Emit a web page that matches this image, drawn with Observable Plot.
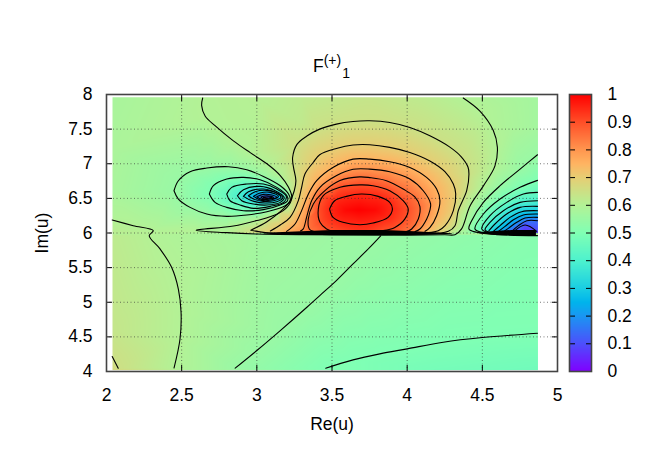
<!DOCTYPE html>
<html><head><meta charset="utf-8">
<script src="https://cdn.jsdelivr.net/npm/d3@7"></script>
<script src="https://cdn.jsdelivr.net/npm/@observablehq/plot@0.6"></script>
<style>
html,body{margin:0;padding:0;background:#fff}
#wrap{position:relative;width:664px;height:465px;font-family:"Liberation Sans",sans-serif}
#wrap svg{position:absolute;left:0;top:0}
#title{position:absolute;left:313px;top:56px;font-size:17.5px;line-height:20px;white-space:nowrap;color:#000}
#title sup,#title sub{font-size:14px;line-height:0;position:relative;vertical-align:baseline}
#title sup{top:-7px}#title sub{top:6px;left:1px}
</style></head><body>
<div id="wrap"><div id="title">F<sup>(+)</sup><sub>1</sub></div></div>
<script>
const xTicks=[2,2.5,3,3.5,4,4.5,5];
const yTicks=[4,4.5,5,5.5,6,6.5,7,7.5,8];
const barTicks=[0,0.1,0.2,0.3,0.4,0.5,0.6,0.7,0.8,0.9,1];
const paletteValues=[0,0.1,0.2,0.25,0.3,0.4,0.5,0.6,0.7,0.75,0.8,0.9,1];
const paletteColors=["#8000ff","#4d4ffc","#1a96f2","#00b4ec","#1acee3","#4df2ce","#80ffb4","#b3f296","#e6ce74","#ffb462","#ff964f","#ff4f28","#ff0000"];

// contours: [Re(u), Im(u)]
const c60main=[[2.64,7.95],[2.633,7.84],[2.656,7.69],[2.722,7.55],[2.844,7.33],[2.956,7.16],[3.067,7],[3.156,6.83],[3.211,6.66],[3.233,6.51],[3.2,6.37],[3.133,6.27],[3,6.18],[2.844,6.1],[2.596,6.04],[2.8,6.005],[3,5.985],[3.3,5.975],[4,5.97],[4.25,5.975],[4.318,5.976],[4.362,6.06],[4.418,6.39],[4.507,6.68],[4.584,6.97],[4.6,7.24],[4.573,7.48],[4.484,7.76],[4.373,7.95]];
const c65=[[2.96,6.04],[3.067,6.163],[3.156,6.308],[3.222,6.466],[3.249,6.61],[3.26,6.755],[3.244,6.947],[3.238,7.09],[3.267,7.28],[3.333,7.4],[3.418,7.5],[3.529,7.572],[3.64,7.61],[3.751,7.62],[3.884,7.596],[4.018,7.524],[4.151,7.404],[4.284,7.24],[4.36,7.1],[4.405,6.95],[4.411,6.853],[4.396,6.612],[4.34,6.323],[4.318,6.106],[4.274,6.024],[4.207,5.995],[3.6,5.98],[3.1,5.995],[2.96,6.04]];
const c70=[[3.09,6.03],[3.158,6.12],[3.221,6.227],[3.276,6.468],[3.298,6.66],[3.32,6.853],[3.376,7.022],[3.418,7.13],[3.529,7.22],[3.64,7.27],[3.751,7.274],[3.884,7.236],[4.018,7.163],[4.151,7.04],[4.251,6.885],[4.307,6.707],[4.323,6.564],[4.307,6.323],[4.252,6.106],[4.207,6.034],[4.14,6.005]];
const c75=[[3.198,6.024],[3.254,6.13],[3.298,6.323],[3.343,6.564],[3.398,6.757],[3.509,6.95],[3.64,7.067],[3.751,7.067],[3.884,7.03],[4.018,6.947],[4.129,6.803],[4.196,6.635],[4.218,6.466],[4.196,6.25],[4.152,6.082],[4.119,6.024]];
const c80=[[3.29,6.03],[3.309,6.06],[3.331,6.227],[3.365,6.468],[3.42,6.66],[3.531,6.829],[3.64,6.92],[3.751,6.923],[3.884,6.885],[4.018,6.78],[4.107,6.61],[4.156,6.42],[4.15,6.32],[4.13,6.203],[4.085,6.058],[4.052,6.02]];
const c85=[[3.376,6.024],[3.349,6.058],[3.342,6.2],[3.376,6.42],[3.453,6.612],[3.553,6.757],[3.684,6.81],[3.751,6.8],[3.862,6.755],[3.973,6.635],[4.051,6.52],[4.085,6.38],[4.074,6.203],[4.03,6.058],[3.997,6.02]];
const c90=[[3.509,6.024],[3.464,6.058],[3.42,6.154],[3.409,6.347],[3.442,6.54],[3.553,6.66],[3.686,6.695],[3.773,6.683],[3.884,6.61],[3.973,6.466],[4.007,6.346],[3.984,6.2],[3.918,6.08],[3.84,6.034]];
const c95=[[3.484,6.346],[3.518,6.466],[3.596,6.529],[3.696,6.5625],[3.807,6.529],[3.884,6.442],[3.902,6.346],[3.873,6.226],[3.773,6.144],[3.684,6.12],[3.573,6.154],[3.507,6.226],[3.484,6.346]];

const dip55=[[2.449,6.61],[2.478,6.755],[2.556,6.885],[2.667,6.9375],[2.811,6.957],[2.933,6.913],[3.044,6.817],[3.156,6.683],[3.211,6.5625],[3.222,6.466],[3.189,6.394],[3.067,6.308],[2.933,6.26],[2.8,6.24],[2.667,6.274],[2.556,6.37],[2.478,6.49],[2.449,6.61]];
const dip50=[[2.684,6.5625],[2.711,6.683],[2.8,6.779],[2.911,6.803],[3.022,6.769],[3.133,6.659],[3.2,6.538],[3.204,6.466],[3.156,6.404],[3.044,6.337],[2.911,6.322],[2.8,6.37],[2.722,6.442],[2.684,6.5625]];
const dip45=[[2.8,6.5625],[2.833,6.659],[2.933,6.707],[3.044,6.707],[3.133,6.635],[3.196,6.529],[3.178,6.442],[3.089,6.385],[2.978,6.356],[2.889,6.404],[2.822,6.466],[2.8,6.5625]];
const dip40=[[2.871,6.538],[2.911,6.625],[3.022,6.673],[3.122,6.611],[3.182,6.514],[3.156,6.442],[3.067,6.404],[2.978,6.418],[2.9,6.466],[2.871,6.538]];
const dip35=[[2.911,6.529],[2.944,6.596],[3.044,6.635],[3.133,6.577],[3.173,6.514],[3.133,6.452],[3.056,6.433],[2.967,6.466],[2.911,6.529]];
const dip30=[[2.944,6.538],[2.989,6.596],[3.067,6.615],[3.144,6.5625],[3.16,6.514],[3.111,6.466],[3.044,6.457],[2.978,6.49],[2.944,6.538]];
const dip25=[[2.978,6.529],[3.022,6.577],[3.089,6.587],[3.144,6.529],[3.1,6.481],[3.033,6.471],[2.978,6.529]];
const dip20=[[3,6.524],[3.044,6.558],[3.1,6.548],[3.133,6.514],[3.089,6.49],[3.033,6.486],[3,6.524]];
const dip15=[[3.027,6.519],[3.067,6.538],[3.111,6.514],[3.078,6.495],[3.044,6.495],[3.027,6.519]];
const dip10=[[3.044,6.514],[3.078,6.524],[3.1,6.514],[3.067,6.5],[3.044,6.514]];

const right55=[[4.867,7.13],[4.751,6.923],[4.618,6.683],[4.507,6.442],[4.429,6.178],[4.411,6.058],[4.462,6.01],[4.596,5.976],[4.867,5.962]];
const right50=[[4.867,6.76],[4.751,6.659],[4.618,6.49],[4.507,6.274],[4.451,6.058],[4.507,6.005],[4.662,5.976]];
const right45=[[4.867,6.587],[4.773,6.5625],[4.662,6.442],[4.551,6.25],[4.496,6.058],[4.54,6.005]];
const right40=[[4.867,6.466],[4.751,6.442],[4.64,6.322],[4.551,6.154],[4.518,6.048],[4.551,6.005]];
const right35=[[4.867,6.385],[4.751,6.37],[4.662,6.274],[4.584,6.13],[4.544,6.034]];
const right30=[[4.867,6.322],[4.762,6.308],[4.684,6.226],[4.618,6.106],[4.573,6.024]];
const right25=[[4.867,6.274],[4.773,6.26],[4.707,6.192],[4.651,6.096],[4.607,6.024]];
const right20=[[4.867,6.226],[4.784,6.216],[4.729,6.154],[4.673,6.067],[4.644,6.024]];
const right15=[[4.867,6.178],[4.796,6.178],[4.74,6.106],[4.696,6.024]];
const right10=[[4.711,6.024],[4.784,6.115],[4.862,6.024]];

const left60=[[2.038,6.1875],[2.178,6.106],[2.311,6.034],[2.284,5.96],[2.356,5.77],[2.433,5.505],[2.478,5.19],[2.496,4.856],[2.489,4.47],[2.449,4.05]];
const corner65=[[2.038,4.216],[2.078,4.048]];
const diag55=[[2.856,4.048],[3,4.303],[3.156,4.591],[3.333,4.928],[3.431,5.12],[3.529,5.3125],[3.64,5.553],[3.751,5.793],[3.824,5.96]];
const bottom50=[[3.458,4.048],[3.64,4.168],[3.818,4.255],[4,4.327],[4.24,4.423],[4.5,4.49],[4.867,4.553]];

// contours crowd into a solid band along the cut at Im(u)=6
const bandX=[3.05,3.3,3.5,3.85,4.05,4.3];
const bandLow=[5.985,5.972,5.962,5.962,5.972,5.98];
const bandHigh=[5.995,6.018,6.036,6.036,6.018,5.99];
const band2X=[4.46,4.6,4.7,4.86];
const band2Low=[5.995,5.968,5.962,5.962];
const band2High=[6.0,6.025,6.036,6.036];

// further colour readings: [Re(u), Im(u), value]
const upperField=[[2.04,7.96,.58],[2.64,7.96,.6],[3,7.96,.605],[3.3,7.96,.62],[3.75,7.96,.635],[4.1,7.96,.62],[4.37,7.96,.6],[4.87,7.96,.57],[4.87,7.5,.57],
[2.04,7.2,.585],[2.04,6.6,.58],[2.04,6.25,.595],[2.04,6,.615],[2.3,6,.605],[2.6,6,.6],[2.96,6,.65],[3.09,6,.7],[3.2,6,.75],[3.29,6,.8],[3.37,6,.85],[3.5,6,.9],[3.7,6,.93],[3.85,6,.92],[4,6,.85],[4.05,6,.8],[4.12,6,.75],[4.2,6,.7],[4.27,6,.65],[4.32,6,.6],[4.41,6,.55],[4.45,6,.5],[4.5,6,.45],[4.54,6,.35],[4.57,6,.3],[4.6,6,.25],[4.65,6,.2],[4.7,6,.15],[4.75,6,.1],[4.87,6,.08],
[3.68,6.33,1],[3.6,6.33,.99],[3.78,6.33,.99],[3.06,6.515,.05],[4.78,6.04,.07],[4.86,6.04,.09],[3.3,7.6,.625],[4.45,7.4,.625],[4.7,7.5,.585]];
const lowerField=[[2.04,4.02,.67],[2.04,4.6,.635],[2.04,5.97,.62],[2.25,5.97,.605],[3,5.97,.57],[3.82,5.97,.55],[4.4,5.97,.53],[4.87,5.97,.515],[2.6,4.02,.585],[3.5,4.02,.505],[4.87,4.02,.47],[4.2,4.02,.48]];

const lineTable=[
 ["c60main",.6,c60main],["c65",.65,c65],["c70",.7,c70],["c75",.75,c75],["c80",.8,c80],["c85",.85,c85],["c90",.9,c90],["c95",.95,c95],
 ["dip55",.55,dip55],["dip50",.5,dip50],["dip45",.45,dip45],["dip40",.4,dip40],["dip35",.35,dip35],["dip30",.3,dip30],["dip25",.25,dip25],["dip20",.2,dip20],["dip15",.15,dip15],["dip10",.1,dip10],
 ["right55",.55,right55],["right50",.5,right50],["right45",.45,right45],["right40",.4,right40],["right35",.35,right35],["right30",.3,right30],["right25",.25,right25],["right20",.2,right20],["right15",.15,right15],["right10",.1,right10],
 ["left60",.6,left60],["corner65",.65,corner65],["diag55",.55,diag55],["bottom50",.5,bottom50]];
const rows=lineTable.flatMap(([id,v,pts])=>pts.map(([x,y])=>({id,v,x,y})));
const lowerIds=new Set(["left60","corner65","diag55","bottom50"]);
const extra=a=>a.map(([x,y,v])=>({x,y,v}));
const upperPts=rows.filter(d=>d.y>=6).concat(extra(upperField));
const lowerPts=rows.filter(d=>d.y<6&&lowerIds.has(d.id)).concat(extra(lowerField));
const bandRows=bandX.map((x,i)=>({x,y1:bandLow[i],y2:bandHigh[i]}));
const band2Rows=band2X.map((x,i)=>({x,y1:band2Low[i],y2:band2High[i]}));

const color={type:"linear",domain:paletteValues,range:paletteColors,clamp:true};
const frameColor="#444";
const commonStyle={fontFamily:'"Liberation Sans",sans-serif',fontSize:"17.5px",background:"transparent",color:"#000",overflow:"visible"};
const dots={stroke:"#333",strokeOpacity:.65,strokeDasharray:"1,2.5",strokeWidth:1};
const plain=d=>String(d);

const main=Plot.plot({
 width:664,height:465,marginLeft:106,marginRight:107,marginTop:94,marginBottom:94,
 x:{domain:[2,5],ticks:xTicks},y:{domain:[4,8],ticks:yTicks},color,style:commonStyle,
 marks:[
  Plot.raster(upperPts,{x:"x",y:"y",fill:"v",x1:2.04,x2:4.87,y1:6,y2:7.96,interpolate:"barycentric"}),
  Plot.raster(lowerPts,{x:"x",y:"y",fill:"v",x1:2.04,x2:4.87,y1:4.02,y2:6,interpolate:"barycentric"}),
  Plot.gridX(xTicks,dots),
  Plot.gridY(yTicks,dots),
  Plot.line(rows,{x:"x",y:"y",z:"id",stroke:"#000",strokeWidth:1.1,curve:"catmull-rom"}),
  Plot.areaY(bandRows,{x:"x",y1:"y1",y2:"y2",fill:"#000"}),
  Plot.areaY(band2Rows,{x:"x",y1:"y1",y2:"y2",fill:"#000"}),
  Plot.axisX(xTicks,{anchor:"bottom",tickSize:-6,tickPadding:23,tickFormat:plain,label:"Re(u)",labelAnchor:"center",labelArrow:"none",labelOffset:58,stroke:"#000"}),
  Plot.axisX(xTicks,{anchor:"top",tickSize:-6,tickFormat:()=>"",label:null,stroke:"#000"}),
  Plot.axisY(yTicks,{anchor:"left",tickSize:-6,tickPadding:20,tickFormat:plain,label:"Im(u)",labelAnchor:"center",labelArrow:"none",labelOffset:71,stroke:"#000"}),
  Plot.axisY(yTicks,{anchor:"right",tickSize:-6,tickFormat:()=>"",label:null,stroke:"#000"}),
  Plot.frame({stroke:frameColor,strokeWidth:1.6})
 ]});
const bar=Plot.plot({
 width:664,height:465,marginLeft:569,marginRight:73,marginTop:94,marginBottom:94,
 x:{domain:[0,1],axis:null},y:{domain:[0,1],ticks:barTicks},color,style:commonStyle,
 marks:[
  Plot.raster({fill:(x,y)=>y,x1:0,x2:1,y1:0,y2:1,pixelSize:1}),
  Plot.axisY(barTicks,{anchor:"right",tickSize:-6,tickPadding:22,tickFormat:plain,label:null,stroke:"#000"}),
  Plot.axisY(barTicks,{anchor:"left",tickSize:-6,tickFormat:()=>"",label:null,stroke:"#000"}),
  Plot.frame({stroke:frameColor,strokeWidth:1.6})
 ]});
const wrap=document.getElementById("wrap");
wrap.prepend(bar);wrap.prepend(main);
</script></body></html>
